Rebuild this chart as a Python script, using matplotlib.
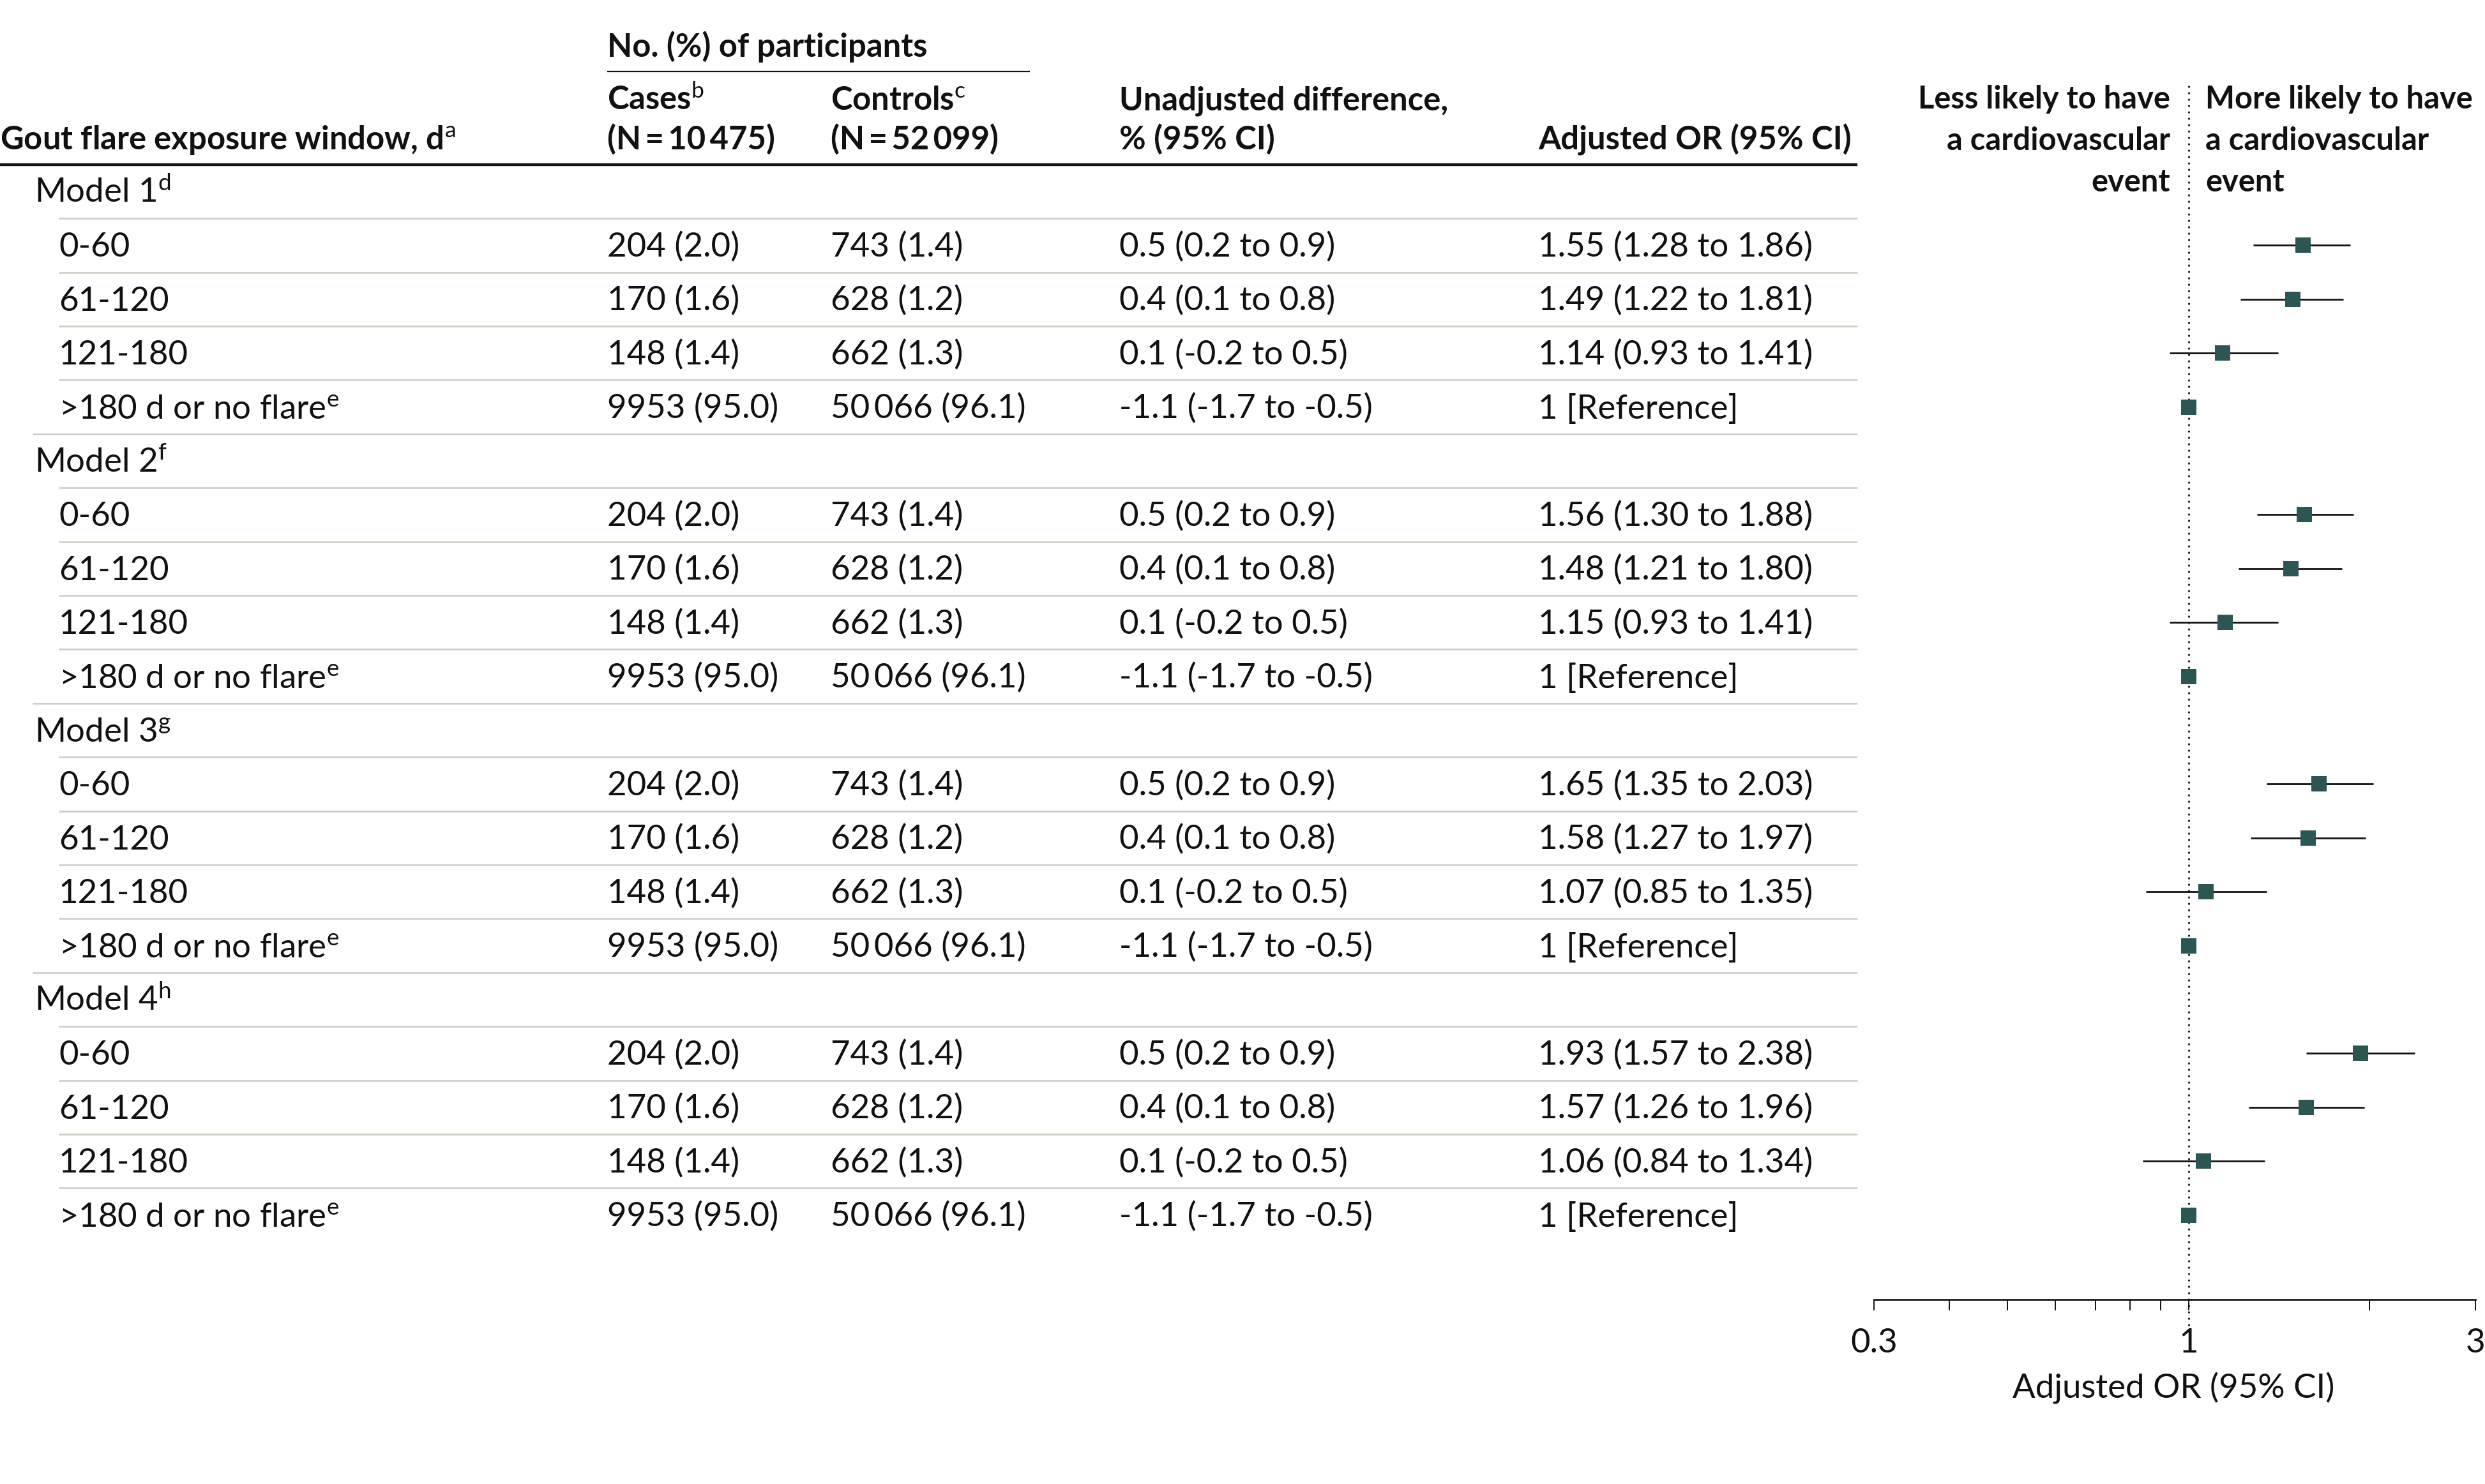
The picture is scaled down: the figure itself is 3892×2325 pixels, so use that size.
import matplotlib
matplotlib.use("Agg")
import matplotlib.pyplot as plt
import numpy as np

plt.rcParams['font.family'] = ['Lato', 'DejaVu Sans']
plt.rcParams['mathtext.fontset'] = 'custom'
plt.rcParams['mathtext.rm'] = 'Lato'
plt.rcParams['mathtext.it'] = 'Lato:italic'
plt.rcParams['mathtext.bf'] = 'Lato:bold'

# ---------------- data ----------------
models = ['Model 1', 'Model 2', 'Model 3', 'Model 4']
model_notes = ['d', 'f', 'g', 'h']
windows = ['0-60', '61-120', '121-180', '>180 d or no flare']
window_notes = ['', '', '', 'e']
cases_n = [204, 170, 148, 9953]
cases_pct = [2.0, 1.6, 1.4, 95.0]
controls_n = [743, 628, 662, 50066]
controls_pct = [1.4, 1.2, 1.3, 96.1]
diff = [0.5, 0.4, 0.1, -1.1]
diff_lo = [0.2, 0.1, -0.2, -1.7]
diff_hi = [0.9, 0.8, 0.5, -0.5]
or_m1 = [1.55, 1.49, 1.14, 1.0]
lo_m1 = [1.28, 1.22, 0.93, None]
hi_m1 = [1.86, 1.81, 1.41, None]
or_m2 = [1.56, 1.48, 1.15, 1.0]
lo_m2 = [1.30, 1.21, 0.93, None]
hi_m2 = [1.88, 1.80, 1.41, None]
or_m3 = [1.65, 1.58, 1.07, 1.0]
lo_m3 = [1.35, 1.27, 0.85, None]
hi_m3 = [2.03, 1.97, 1.35, None]
or_m4 = [1.93, 1.57, 1.06, 1.0]
lo_m4 = [1.57, 1.26, 0.84, None]
hi_m4 = [2.38, 1.96, 1.34, None]
or_all = [or_m1, or_m2, or_m3, or_m4]
lo_all = [lo_m1, lo_m2, lo_m3, lo_m4]
hi_all = [hi_m1, hi_m2, hi_m3, hi_m4]
n_cases_total = 10475
n_controls_total = 52099
xticks_major = [0.3, 1, 3]
xticks_major_labels = ['0.3', '1', '3']
xticks_minor = [0.4, 0.5, 0.6, 0.7, 0.8, 0.9, 2]

# ---------------- layout (pixels) ----------------
W, H = 3892, 2325
DPI = 100
FS = 38
FSB = 36.5
FSF = 35.2
row0, pitch = 300, 84.4
base_off = 18
x_model, x_sub = 54, 92
x_cases, x_ctrl, x_diff, x_or = 951, 1301, 1753, 2409
table_right = 2909
fx0, fx1 = 2935, 3877
fy_top, fy_axis = 134, 2036
txt_col = '#111111'
sep_col = '#c9cdc0'
mk_col = '#2b5654'

def thin(n):
    s = f"{n:,}"
    return s.replace(',', '\u2009') if n >= 10000 else s.replace(',', '')

fig = plt.figure(figsize=(W / DPI, H / DPI), dpi=DPI)
bg = fig.add_axes([0, 0, 1, 1])
bg.set_xlim(0, W)
bg.set_ylim(H, 0)
bg.axis('off')

def T(x, y, s, bold=False, ha='left', size=None):
    if size is None:
        size = FSB if bold else FS
    bg.text(x, y, s, fontsize=size,
            fontweight='bold' if bold else 'normal',
            ha=ha, va='baseline', color=txt_col)

# header
T(x_cases, 89, 'No. (%) of participants', bold=True)
bg.plot([x_cases, 1613], [112, 112], color=txt_col, lw=1.6, solid_capstyle='butt')
T(x_cases, 172, r'Cases$^{\mathrm{b}}$', bold=True)
T(x_cases, 234, f'(N\u2009=\u2009{thin(n_cases_total)})', bold=True)
T(x_ctrl, 172, r'Controls$^{\mathrm{c}}$', bold=True)
T(x_ctrl, 234, f'(N\u2009=\u2009{thin(n_controls_total)})', bold=True)
T(0, 234, r'Gout flare exposure window, d$^{\mathrm{a}}$', bold=True)
T(x_diff, 172, 'Unadjusted difference,', bold=True)
T(x_diff, 234, '% (95% CI)', bold=True)
T(x_or, 234, 'Adjusted OR (95% CI)', bold=True)
bg.plot([0, table_right], [258, 258], color=txt_col, lw=3.2, solid_capstyle='butt')

# forest header
for yb, s in zip([170, 235, 300], ['Less likely to have', 'a cardiovascular', 'event']):
    T(3399, yb, s, bold=True, ha='right', size=FSF)
for yb, s in zip([170, 235, 300], ['More likely to have', 'a cardiovascular', 'event']):
    T(3454, yb, s, bold=True, ha='left', size=FSF)

# table body
for m in range(len(models)):
    r = m * 5
    yc = row0 + pitch * r
    T(x_model, yc + base_off, models[m] + r'$^{\mathrm{' + model_notes[m] + '}}$')
    bg.plot([x_sub, table_right], [yc + pitch / 2] * 2, color=sep_col, lw=1.8, solid_capstyle='butt')
    for k in range(len(windows)):
        y = row0 + pitch * (r + 1 + k)
        lab = windows[k]
        if window_notes[k]:
            lab = lab + r'$^{\mathrm{' + window_notes[k] + '}}$'
        T(x_sub, y + base_off, lab)
        T(x_cases, y + base_off, f'{thin(cases_n[k])} ({cases_pct[k]:.1f})')
        T(x_ctrl, y + base_off, f'{thin(controls_n[k])} ({controls_pct[k]:.1f})')
        T(x_diff, y + base_off, f'{diff[k]:.1f} ({diff_lo[k]:.1f} to {diff_hi[k]:.1f})')
        if lo_all[m][k] is None:
            T(x_or, y + base_off, '1 [Reference]')
        else:
            T(x_or, y + base_off, f'{or_all[m][k]:.2f} ({lo_all[m][k]:.2f} to {hi_all[m][k]:.2f})')
        if k < 3:
            bg.plot([x_sub, table_right], [y + pitch / 2] * 2, color=sep_col, lw=1.8, solid_capstyle='butt')
        elif m < len(models) - 1:
            bg.plot([51, table_right], [y + pitch / 2] * 2, color=sep_col, lw=1.8, solid_capstyle='butt')

# ---------------- forest plot ----------------
ax = fig.add_axes([fx0 / W, 1 - fy_axis / H, (fx1 - fx0) / W, (fy_axis - fy_top) / H])
ax.set_facecolor('none')
ax.set_xscale('log')
ax.set_xlim(0.3, 3)
ax.set_ylim((fy_axis - row0) / pitch, (fy_top - row0) / pitch)
for m in range(len(models)):
    for k in range(len(windows)):
        yi = m * 5 + 1 + k
        if lo_all[m][k] is not None:
            ax.plot([lo_all[m][k], hi_all[m][k]], [yi, yi], color='#111111', lw=2.0,
                    solid_capstyle='butt', zorder=2)
        ax.plot([or_all[m][k]], [yi], marker='s', ms=17.5, color=mk_col,
                markeredgewidth=0, zorder=3)
ext = (2077 - fy_axis) / (fy_axis - fy_top)
ax.axvline(1, ymin=-ext, ymax=1, color='#111111', lw=2.0, ls=(0, (1, 2.6)),
           clip_on=False, zorder=1)
for s in ['top', 'left', 'right']:
    ax.spines[s].set_visible(False)
ax.spines['bottom'].set_linewidth(1.9)
ax.spines['bottom'].set_color('#111111')
ax.set_yticks([])
ax.set_xticks(xticks_major)
ax.set_xticklabels(xticks_major_labels)
ax.set_xticks(xticks_minor, minor=True)
ax.set_xticklabels([''] * len(xticks_minor), minor=True)
ax.tick_params(axis='x', which='both', direction='out', length=12.5, width=1.4,
               color='#111111', labelsize=FS, pad=20, labelcolor=txt_col)
T((fx0 + fx1) / 2 - 2, 2190, 'Adjusted OR (95% CI)', ha='center')

fig.savefig('out.png', dpi=DPI, facecolor='white')
